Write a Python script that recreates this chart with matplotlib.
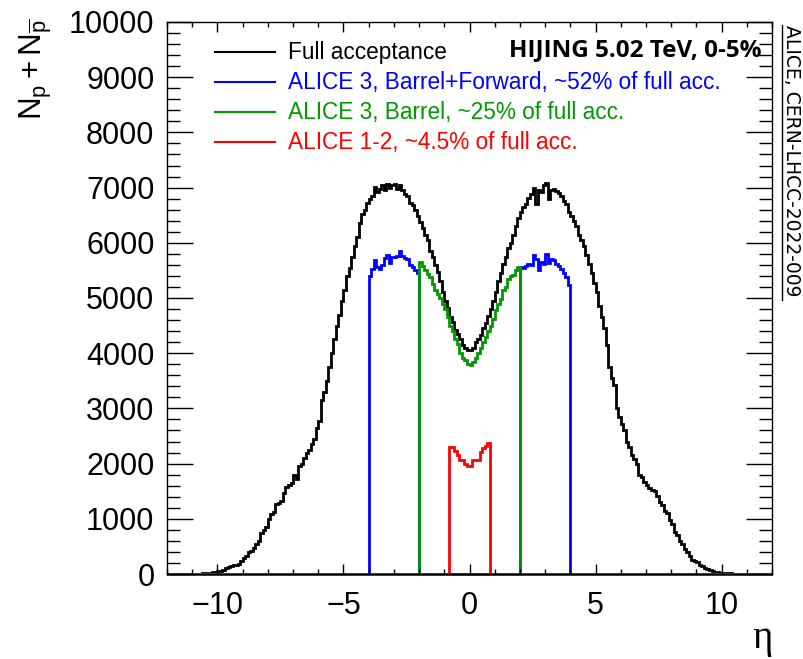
import numpy as np
import matplotlib
matplotlib.use("Agg")
import matplotlib.pyplot as plt
from matplotlib.ticker import MultipleLocator
from matplotlib.lines import Line2D

plt.rcParams['font.family'] = ['Liberation Sans', 'DejaVu Sans']
plt.rcParams['mathtext.fontset'] = 'custom'
plt.rcParams['mathtext.rm'] = 'Liberation Sans'
plt.rcParams['mathtext.it'] = 'Liberation Sans'

# ---------------- data (bin width 0.1 in eta) ----------------
black_lo, black_hi = -11.0, 11.0
black_counts = [
    0, 0, 3, 6, 10, 15, 20, 25, 32, 40,
    50, 62, 80, 100, 125, 140, 155, 170, 185, 240,
    290, 320, 390, 420, 480, 540, 600, 740, 800, 860,
    1000, 1090, 1130, 1260, 1290, 1320, 1460, 1570, 1620, 1640,
    1800, 1720, 1960, 2000, 2100, 2200, 2250, 2360, 2450, 2640,
    2770, 3150, 3300, 3500, 3750, 4000, 4250, 4500, 4700, 4950,
    5150, 5400, 5550, 5750, 5950, 6100, 6350, 6520, 6600, 6720,
    6800, 6850, 7010, 6920, 6980, 7050, 6960, 7060, 7000, 7050,
    7060, 6980, 7040, 6950, 6880, 6840, 6720, 6680, 6600, 6480,
    6380, 6260, 6150, 6050, 5850, 5750, 5600, 5480, 5300, 5100,
    4950, 4820, 4650, 4560, 4420, 4350, 4250, 4150, 4100, 4050,
    4060, 4100, 4200, 4250, 4330, 4450, 4550, 4680, 4800, 4950,
    5100, 5300, 5450, 5620, 5750, 5900, 6000, 6150, 6300, 6450,
    6550, 6650, 6700, 6820, 6880, 6990, 6700, 6950, 6920, 7050,
    7080, 6800, 6960, 6980, 6940, 6900, 6850, 6750, 6700, 6560,
    6480, 6400, 6300, 6150, 6050, 5950, 5780, 5620, 5450, 5280,
    5100, 4850, 4650, 4450, 4150, 3750, 3550, 3420, 3000, 2850,
    2720, 2600, 2400, 2300, 2150, 2080, 1990, 1800, 1750, 1660,
    1620, 1560, 1520, 1500, 1420, 1300, 1250, 1150, 1100, 980,
    900, 760, 700, 600, 540, 450, 400, 330, 260, 230,
    210, 170, 140, 110, 90, 70, 55, 45, 35, 25,
    20, 15, 12, 10, 8, 6, 4, 2, 0, 0,
]
# ALICE 3 Barrel+Forward: forward parts only (2<|eta|<4)
blue_neg_lo = -4.0
blue_neg = [5400, 5520, 5690, 5560, 5520, 5600, 5720, 5780, 5640, 5750,
            5740, 5760, 5860, 5760, 5720, 5700, 5600, 5560, 5500, 5450]
blue_pos_lo = 2.0
blue_pos = [5560, 5540, 5580, 5620, 5600, 5780, 5700, 5510, 5650, 5620,
            5800, 5640, 5700, 5680, 5620, 5580, 5520, 5450, 5380, 5240]
# ALICE 3 Barrel (|eta|<2)
green_lo = -2.0
green_counts = [5650, 5580, 5500, 5440, 5380, 5250, 5150, 5080, 5000, 4900,
                4800, 4650, 4500, 4400, 4250, 4170, 4000, 3910, 3870, 3800,
                3790, 3840, 3920, 4000, 4100, 4200, 4300, 4400, 4500, 4620,
                4780, 4900, 4980, 5150, 5200, 5350, 5400, 5420, 5500, 5560]
# ALICE 1-2 (|eta|<0.8)
red_lo = -0.8
red_counts = [2300, 2300, 2230, 2150, 2070, 2060, 2000, 1960,
              1960, 2060, 2070, 2070, 2210, 2280, 2320, 2370]

labels = ["Full acceptance",
          "ALICE 3, Barrel+Forward, ~52% of full acc.",
          "ALICE 3, Barrel, ~25% of full acc.",
          "ALICE 1-2, ~4.5% of full acc."]
colors = ["black", "#0000ff", "#009900", "#ff0000"]

# ---------------- histogram binning ----------------
xmin, xmax, bw = -12.0, 12.0, 0.1
nb = int(round((xmax - xmin) / bw))
edges = np.linspace(xmin, xmax, nb + 1)

def fill(parts):
    h = np.zeros(nb)
    for lo, vals in parts:
        i0 = int(round((lo - xmin) / bw))
        h[i0:i0 + len(vals)] = vals
    return h

h_black = fill([(black_lo, black_counts)])
h_blue = fill([(blue_neg_lo, blue_neg), (blue_pos_lo, blue_pos)])
h_green = fill([(green_lo, green_counts)])
h_red = fill([(red_lo, red_counts)])

W, H = 804, 659
fig = plt.figure(figsize=(W / 100, H / 100), dpi=100)
L, R, T, B = 167, 772, 22, 574
ax = fig.add_axes([L / W, 1 - B / H, (R - L) / W, (B - T) / H])

for h, c in zip([h_black, h_blue, h_green, h_red], colors):
    ax.stairs(h, edges, color=c, lw=2, clip_on=False, baseline=0)

ax.set_xlim(xmin, xmax)
ax.set_ylim(0, 10000)
ax.xaxis.set_major_locator(MultipleLocator(5))
ax.xaxis.set_minor_locator(MultipleLocator(1))
ax.yaxis.set_major_locator(MultipleLocator(1000))
ax.yaxis.set_minor_locator(MultipleLocator(200))
ax.tick_params(axis='both', which='both', direction='in', top=True, right=True,
               width=1, labelsize=22)
ax.tick_params(axis='x', which='major', length=7.5, pad=12)
ax.tick_params(axis='x', which='minor', length=3.8)
ax.tick_params(axis='y', which='major', length=19, pad=9)
ax.tick_params(axis='y', which='minor', length=9.5)
for s in ax.spines.values():
    s.set_linewidth(1)

# axis titles
fig.text(36 / W, 1 - 18 / H, r'$\mathrm{N_{p}+N_{\overline{p}}}$', rotation=90,
         ha='center', va='top', fontsize=22.5)
fig.text(773 / W, 1 - 648 / H, 'η', ha='right', va='baseline', fontsize=28,
         family=['Liberation Serif', 'DejaVu Serif'])

# legend drawn manually
row_y = [52, 82, 112, 142]
for y, lab, c in zip(row_y, labels, colors):
    fig.add_artist(Line2D([215 / W, 275 / W], [1 - y / H, 1 - y / H],
                          color=c, lw=1.5))
    fig.text(288 / W, 1 - y / H, lab, color=c, fontsize=16.3,
             ha='left', va='center')

fig.text(762 / W, 1 - 50 / H, 'HIJING 5.02 TeV, 0-5%', fontsize=17.5,
         fontweight='bold', ha='right', va='center',
         family=['Open Sans', 'DejaVu Sans'])

# right-hand reference
fig.text(792 / W, 1 - 25 / H, 'ALICE, CERN-LHCC-2022-009', rotation=-90,
         ha='center', va='top', fontsize=13.5, family=['DejaVu Sans'])
fig.add_artist(Line2D([782 / W, 782 / W], [1 - 25 / H, 1 - 300 / H],
                      color='black', lw=1))

fig.savefig('out.png', dpi=100)
